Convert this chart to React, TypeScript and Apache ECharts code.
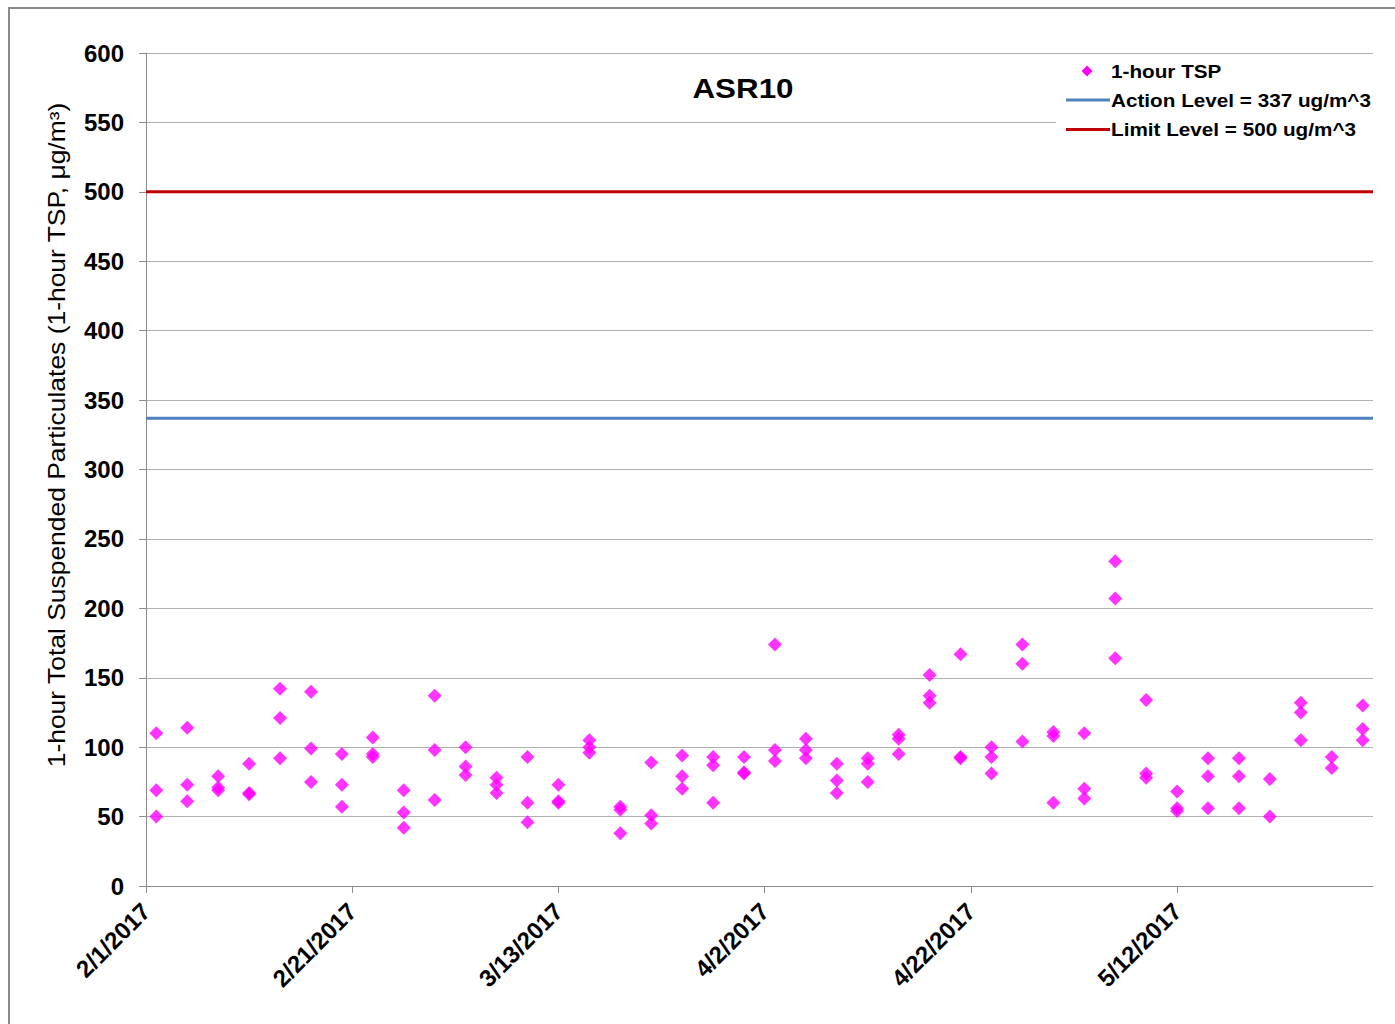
import React, { useEffect, useRef } from "react";
import * as echarts from "echarts";

// ---------- data ----------
const chartTitle = "ASR10";
const yAxisTitle = "1-hour Total Suspended Particulates (1-hour TSP, μg/m³)";
const startDate = "2017-02-01";
const endDate = "2017-05-31";
const xTickStepDays = 20;
const yMin = 0;
const yMax = 600;
const yStep = 50;

const tspName = "1-hour TSP";
const actionName = "Action Level = 337 ug/m^3";
const limitName = "Limit Level = 500 ug/m^3";
const actionLevel = 337;
const limitLevel = 500;

const sampleDates = [
  "2017-02-02", "2017-02-05", "2017-02-08", "2017-02-11", "2017-02-14",
  "2017-02-17", "2017-02-20", "2017-02-23", "2017-02-26", "2017-03-01",
  "2017-03-04", "2017-03-07", "2017-03-10", "2017-03-13", "2017-03-16",
  "2017-03-19", "2017-03-22", "2017-03-25", "2017-03-28", "2017-03-31",
  "2017-04-03", "2017-04-06", "2017-04-09", "2017-04-12", "2017-04-15",
  "2017-04-18", "2017-04-21", "2017-04-24", "2017-04-27", "2017-04-30",
  "2017-05-03", "2017-05-06", "2017-05-09", "2017-05-12", "2017-05-15",
  "2017-05-18", "2017-05-21", "2017-05-24", "2017-05-27", "2017-05-30",
];

const tspReadings: number[][] = [
  [110, 69, 50],
  [114, 73, 61],
  [79, 71, 69],
  [88, 67, 66],
  [142, 121, 92],
  [140, 99, 75],
  [95, 73, 57],
  [107, 95, 93],
  [69, 53, 42],
  [137, 98, 62],
  [100, 86, 80],
  [78, 73, 67],
  [93, 60, 46],
  [73, 61, 60],
  [105, 100, 96],
  [57, 55, 38],
  [89, 51, 45],
  [94, 79, 70],
  [93, 87, 60],
  [93, 82, 81],
  [174, 98, 90],
  [106, 98, 92],
  [88, 76, 67],
  [92, 88, 75],
  [109, 106, 95],
  [152, 137, 132],
  [167, 93, 92],
  [100, 93, 81],
  [174, 160, 104],
  [111, 108, 60],
  [110, 70, 63],
  [234, 207, 164],
  [134, 81, 78],
  [68, 56, 54],
  [92, 79, 56],
  [92, 79, 56],
  [77, 50],
  [132, 125, 105],
  [93, 85],
  [130, 113, 105],
];

// ---------- helpers ----------
const DAY = 86400000;
const toUTC = (s: string) => Date.parse(s + "T00:00:00Z");
const dayOffset = (s: string) => Math.round((toUTC(s) - toUTC(startDate)) / DAY);
const fmtDay = (v: number) => {
  const d = new Date(toUTC(startDate) + v * DAY);
  return `${d.getUTCMonth() + 1}/${d.getUTCDate()}/${d.getUTCFullYear()}`;
};

const FONT = "'Liberation Sans', Arial, Helvetica, sans-serif";

export default function App() {
  const ref = useRef<HTMLDivElement>(null);

  useEffect(() => {
    if (!ref.current) return;
    const chart = echarts.init(ref.current, undefined, { renderer: "svg" });

    const xMax = dayOffset(endDate);
    const scatterData: number[][] = [];
    sampleDates.forEach((d, i) => {
      tspReadings[i].forEach((v) => scatterData.push([dayOffset(d), v]));
    });

    const legendX = 1056;
    const legendY = 56;
    const legendText = (text: string, y: number) => ({
      type: "text",
      z: 101,
      x: 1111,
      y,
      scaleX: 1.09,
      style: {
        text,
        fill: "#000",
        font: `bold 19px ${FONT}`,
        textAlign: "left",
        textVerticalAlign: "middle",
      },
    });

    const option: any = {
      animation: false,
      backgroundColor: "#ffffff",
      textStyle: { fontFamily: FONT },
      grid: {
        left: 146,
        top: 53,
        right: 22,
        bottom: 138,
        containLabel: false,
        outerBoundsMode: "none",
      },
      xAxis: {
        type: "value",
        min: 0,
        max: xMax,
        interval: xTickStepDays,
        axisLine: { show: true, onZero: false, lineStyle: { color: "#8c8c8c", width: 1 } },
        axisTick: { show: true, inside: false, length: 7, lineStyle: { color: "#8c8c8c", width: 1 } },
        splitLine: { show: false },
        axisLabel: {
          rotate: 45,
          margin: 21,
          fontFamily: FONT,
          fontSize: 24,
          fontWeight: "bold",
          color: "#000",
          showMaxLabel: false,
          formatter: (v: number) => fmtDay(v),
        },
      },
      yAxis: {
        type: "value",
        min: yMin,
        max: yMax,
        interval: yStep,
        axisLine: { show: true, lineStyle: { color: "#8c8c8c", width: 1 } },
        axisTick: { show: true, inside: false, length: 7, lineStyle: { color: "#8c8c8c", width: 1 } },
        splitLine: { show: true, lineStyle: { color: "#b0b0b0", width: 1 } },
        axisLabel: {
          margin: 22,
          fontFamily: FONT,
          fontSize: 24,
          fontWeight: "bold",
          color: "#000",
        },
      },
      series: [
        {
          name: limitName,
          type: "line",
          data: [[0, limitLevel], [xMax, limitLevel]],
          showSymbol: false,
          symbol: "none",
          silent: true,
          lineStyle: { color: "#C00000", width: 3 },
          z: 3,
        },
        {
          name: actionName,
          type: "line",
          data: [[0, actionLevel], [xMax, actionLevel]],
          showSymbol: false,
          symbol: "none",
          silent: true,
          lineStyle: { color: "#4F81BD", width: 3 },
          z: 3,
        },
        {
          name: tspName,
          type: "scatter",
          data: scatterData,
          symbol: "diamond",
          symbolSize: 14,
          itemStyle: { color: "#FF00FF", borderWidth: 0 },
          z: 4,
        },
      ],
      graphic: [
        {
          type: "rect",
          z: -10,
          silent: true,
          shape: { x: 9, y: 8, width: 1400, height: 1030 },
          style: { fill: "none", stroke: "#898989", lineWidth: 2 },
        },
        {
          type: "text",
          z: 50,
          x: 743,
          y: 88,
          scaleX: 1.12,
          style: {
            text: chartTitle,
            fill: "#000",
            font: `bold 28px ${FONT}`,
            textAlign: "center",
            textVerticalAlign: "middle",
          },
        },
        {
          type: "text",
          z: 50,
          x: 57,
          y: 435,
          rotation: Math.PI / 2,
          scaleX: 1.15,
          style: {
            text: yAxisTitle,
            fill: "#000",
            font: `23px ${FONT}`,
            textAlign: "center",
            textVerticalAlign: "middle",
          },
        },
        {
          type: "group",
          z: 100,
          children: [
            {
              type: "rect",
              z: 100,
              shape: { x: legendX, y: legendY, width: 330, height: 88 },
              style: { fill: "#ffffff", stroke: "none" },
            },
            {
              type: "polygon",
              z: 101,
              shape: {
                points: [
                  [1087, 65.5],
                  [1092.5, 71],
                  [1087, 76.5],
                  [1081.5, 71],
                ],
              },
              style: { fill: "#FF00FF" },
            },
            legendText(tspName, 71),
            {
              type: "line",
              z: 101,
              shape: { x1: 1066, y1: 100, x2: 1110, y2: 100 },
              style: { stroke: "#4F81BD", lineWidth: 3 },
            },
            legendText(actionName, 100),
            {
              type: "line",
              z: 101,
              shape: { x1: 1066, y1: 129.5, x2: 1110, y2: 129.5 },
              style: { stroke: "#C00000", lineWidth: 3 },
            },
            legendText(limitName, 129),
          ],
        },
      ],
    };

    chart.setOption(option);
    return () => chart.dispose();
  }, []);

  return (
    <div
      ref={ref}
      style={{ position: "absolute", left: 0, top: 0, width: 1395, height: 1024 }}
    />
  );
}
